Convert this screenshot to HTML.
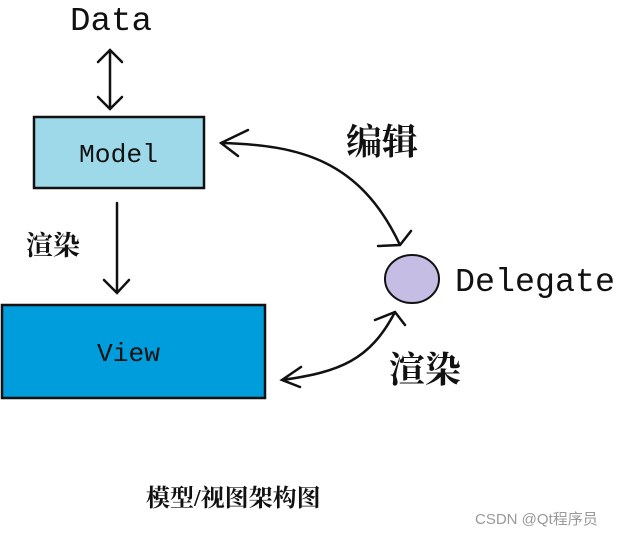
<!DOCTYPE html>
<html><head><meta charset="utf-8"><style>
body{margin:0;background:#fff;width:617px;height:535px;overflow:hidden}
</style></head><body>
<svg width="617" height="535" viewBox="0 0 617 535" xmlns="http://www.w3.org/2000/svg">
<rect x="34" y="117" width="170" height="71" fill="#9ed9ea" stroke="#111" stroke-width="2.5"/>
<rect x="2" y="305" width="263" height="93" fill="#009ddc" stroke="#111" stroke-width="2.5"/>
<ellipse cx="412" cy="279" rx="27" ry="24" fill="#c6bde5" stroke="#111" stroke-width="2"/>
<g font-family="'Liberation Mono','Noto Serif CJK SC',monospace" fill="#111">
<text x="70" y="30" font-size="33" textLength="82" lengthAdjust="spacingAndGlyphs">Data</text>
<text x="79" y="162" font-size="26" textLength="79" lengthAdjust="spacingAndGlyphs">Model</text>
<text x="97" y="361" font-size="26" textLength="63" lengthAdjust="spacingAndGlyphs">View</text>
<text x="455" y="291" font-size="33" textLength="160" lengthAdjust="spacingAndGlyphs">Delegate</text>
</g>
<g font-family="'Liberation Serif','Noto Serif CJK SC',serif" fill="#111" font-weight="bold">
<text x="26" y="255" font-size="27">渲染</text>
<text x="346" y="154" font-size="36">编辑</text>
<text x="389" y="382" font-size="36">渲染</text>
<text x="146" y="506" font-size="24">模型/视图架构图</text>
</g>
<text x="475" y="524" font-family="'Liberation Sans','Noto Sans CJK SC',sans-serif" font-size="15" fill="#999">CSDN @Qt程序员</text>
<g stroke="#111" stroke-width="2.5" fill="none" stroke-linecap="round">
<path d="M110 50 V108 M98 62 L110 50 L122 62 M98 97 L110 109 L122 97"/>
<path d="M117 203 V292 M104 280 L117 293 L129 280"/>
<path d="M221 143 C300 145 360 160 400 245 M248 130 L221 143 L238 156 M378 246 L400 245 L411 231"/>
<path d="M282 380 C340 372 370 360 395 312 M375 320 L395 312 L405 325 M301 367 L282 380 L300 387"/>
</g>
</svg>
</body></html>
